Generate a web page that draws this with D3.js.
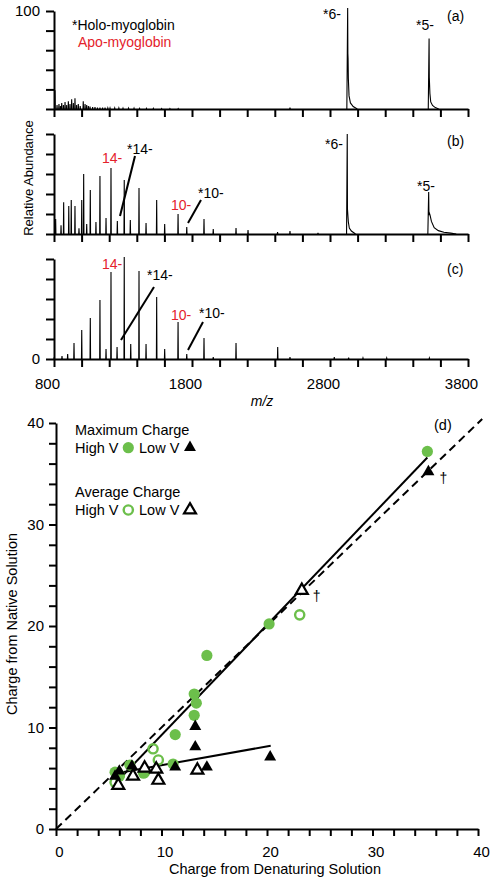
<!DOCTYPE html>
<html><head><meta charset="utf-8">
<script src="https://cdn.jsdelivr.net/npm/d3@7"></script>
<style>body{margin:0;background:#fff} text{font-family:"Liberation Sans",Arial,Helvetica,sans-serif}</style>
</head><body><svg id="c" width="496" height="884"></svg>
<script>
// ---------- DATA ----------
const mzTicks = [800,1000,1200,1400,1600,1800,2000,2200,2400,2600,2800,3000,3200,3400,3600,3800];
const mzLabels = [800,1800,2800,3800];
const abTicks = [0,20,40,60,80,100];

// panel (a) stick peaks
const aMz  = [807,822,836,846,856,868,880,892,904,916,928,940,952,964,976,990,1012,1025,1037,1049,1061,1080,1097,1115,1133,1152,1170,1190,1206,1240,1270,1300,1340,1380,1420,1470,1520,1580,1640,1700,2510];
const aInt = [19,4,5,3,6,4,7,4,8,5,10,6,11,4,5,3,8,5,4,3,2.5,2,2,1.5,1.5,1.5,1.5,1,1,1,1,0.8,0.8,0.8,0.6,0.6,0.6,0.5,0.5,0.5,1.5];
// panel (a) holo peaks (*6-, *5-)
const aHoloMz = [2928,3518];
const aHoloInt = [103,72];

// panel (b)
const bMz  = [812,851,870,907,925,952,981,1001,1015,1037,1063,1104,1133,1177,1213,1259,1309,1353,1416,1467,1544,1602,1699,1762,1887,1954,2119,2206,2420,2510,2713];
const bInt = [15,8.7,31.7,28,34,28,5.7,34,60,10,44,12,58,16,66,13,54,14,46,11,34,10,20,7,15,5,6,4,2,3,1.2];
const bHoloMz = [2925,3515];
const bHoloInt = [100,42];

// panel (c)
const cMz  = [802,858,899,945,1001,1063,1133,1177,1213,1257,1309,1356,1416,1467,1544,1602,1699,1762,1887,1954,2119,2421,2510,2831,2935,3039,3211,3520];
const cInt = [2,3,5,16,29,41,59,10,87,12,102,15,88,15,62,10,37,5,21,2,16,12,2,2,1.5,1,1,1];

// peak tail profiles: [m/z offset, fraction of apex]
const tailA6 = [[-6,0],[0,1],[1.5,0.55],[3,0.5],[5,0.3],[10,0.13],[20,0.06],[40,0.025],[70,0]];
const tailA5 = [[-6,0],[0,1],[1.5,0.45],[3,0.37],[6,0.22],[12,0.1],[25,0.05],[45,0.02],[70,0]];
const tailB6 = [[-5,0],[0,1],[1.5,0.25],[4,0.2],[8,0.12],[15,0.06],[30,0.03],[60,0]];
const tailB5 = [[-6,0],[0,1],[2,0.45],[5,0.5],[10,0.45],[20,0.3],[40,0.15],[70,0.08],[110,0.04],[160,0.02],[200,0]];

// panel (d) scatter
const dTicks = [0,2,4,6,8,10,12,14,16,18,20,22,24,26,28,30,32,34,36,38,40];
const dLabels = [0,10,20,30,40];
const maxHigh = [[5.6,5.6],[6.0,5.2],[7.0,6.3],[8.3,5.5],[11.1,6.4],[11.3,9.3],[13.1,11.2],[13.3,12.4],[13.1,13.3],[14.3,17.1],[20.2,20.2],[35.2,37.2]];
const maxLow  = [[5.6,5.2],[6.0,5.7],[7.2,6.2],[11.3,6.1],[13.2,8.1],[13.2,10.1],[14.3,6.1],[20.3,7.1],[35.3,35.2]];
const avgHigh = [[5.6,4.6],[6.0,5.3],[8.4,5.6],[9.2,7.9],[9.7,6.8],[23.1,21.1]];
const avgLow  = [[5.9,4.3],[7.3,5.2],[8.4,6.0],[9.5,5.9],[9.7,4.8],[13.4,5.8],[23.3,23.5]];
const identityLine = [[0,0],[40.4,40.4]];
const fitHigh = [[5.9,4.8],[35.2,36.6]];
const fitLow  = [[5.75,5.5],[20.35,8.2]];
const daggerPts = [[35.3,35.2],[23.3,23.5]];

// ---------- DRAW ----------
const svg = d3.select("#c");
const RED = "#e4222b", GREEN = "#6cbf4b";
const x = d3.scaleLinear().domain([800,3800]).range([54,468]);

const panels = [
  {id:"a", top:11, base:109, mz:aMz, it:aInt, holo:[[aHoloMz[0],aHoloInt[0],tailA6],[aHoloMz[1],aHoloInt[1],tailA5]]},
  {id:"b", top:134, base:234, mz:bMz, it:bInt, holo:[[bHoloMz[0],bHoloInt[0],tailB6],[bHoloMz[1],bHoloInt[1],tailB5]]},
  {id:"c", top:259, base:359, mz:cMz, it:cInt, holo:[]}
];

panels.forEach(p => {
  const y = d3.scaleLinear().domain([0,100]).range([p.base,p.top]);
  p.y = y;
  const g = svg.append("g");
  const line = d3.line().x(d=>x(d[0])).y(d=>y(d[1]));
  p.mz.forEach((m,i) => {
    g.append("path").attr("d", line([[m-2,0],[m,p.it[i]],[m+2,0]]))
      .attr("fill","none").attr("stroke","#000").attr("stroke-width",1.1);
  });
  p.holo.forEach(([m,h,shape]) => {
    g.append("path").attr("d", line(shape.map(s=>[m+s[0], h*s[1]])))
      .attr("fill","none").attr("stroke","#000").attr("stroke-width",1.1);
  });
  // axes
  const xa = d3.axisBottom(x).tickValues(mzTicks).tickSize(8).tickSizeOuter(0).tickPadding(11)
    .tickFormat(d => (p.id==="c" && mzLabels.includes(d)) ? d : "");
  const gx = svg.append("g").attr("transform",`translate(0,${p.base})`).call(xa);
  const ya = d3.axisLeft(y).tickValues(abTicks).tickSize(8).tickSizeOuter(0).tickPadding(6)
    .tickFormat(d => (p.id==="a" && d===100) ? "100" : (p.id==="c" && d===0) ? "0" : "");
  const gy = svg.append("g").attr("transform","translate(54,0)").call(ya);
  [gx,gy].forEach(ga => {
    ga.select(".domain").attr("stroke-width",2);
    ga.selectAll(".tick line").attr("stroke-width",2);
    ga.selectAll("text").attr("font-size",15).attr("fill","#000");
  });
  gx.selectAll("text").attr("dx",-7);
});

// panel text
function txt(xp, yp, s, opts={}) {
  return svg.append("text").attr("x",xp).attr("y",yp).text(s)
    .attr("font-size",opts.size||14).attr("fill",opts.color||"#000")
    .attr("text-anchor",opts.anchor||"start");
}
txt(72,29.5,"*Holo-myoglobin");
txt(78,46.5,"Apo-myoglobin",{color:RED});
txt(323,18.5,"*6-");
txt(416,30,"*5-");
txt(447,20.5,"(a)");
txt(325,148.5,"*6-");
txt(417,190.5,"*5-");
txt(447,146,"(b)");
txt(447,274,"(c)");
// (b) annotations
txt(102,162.5,"14-",{color:RED});
txt(127,153.5,"*14-");
txt(171,210,"10-",{color:RED});
txt(198,198,"*10-");
// (c) annotations
txt(102,268.5,"14-",{color:RED});
txt(147,280,"*14-");
txt(171,320,"10-",{color:RED});
txt(199,318,"*10-");
const ann = [[[120,216],[135,156]],[[188,223],[201,200]],[[121,340],[154,287]],[[188,350],[203,322]]];
ann.forEach(a => svg.append("line").attr("x1",a[0][0]).attr("y1",a[0][1]).attr("x2",a[1][0]).attr("y2",a[1][1])
  .attr("stroke","#000").attr("stroke-width",2));

svg.append("text").attr("transform","translate(33,178) rotate(-90)").attr("text-anchor","middle")
  .attr("font-size",13).attr("fill","#000").text("Relative Abundance");
svg.append("text").attr("x",262).attr("y",406).attr("text-anchor","middle")
  .attr("font-size",14).attr("font-style","italic").attr("fill","#000").text("m/z");

// ---------- panel (d) ----------
const dx = d3.scaleLinear().domain([0,40]).range([56,478]);
const dy = d3.scaleLinear().domain([0,40]).range([829,423]);
const gd = svg.append("g");
const dline = d3.line().x(d=>dx(d[0])).y(d=>dy(d[1]));
gd.append("path").attr("d",dline(identityLine)).attr("stroke","#000").attr("stroke-width",2)
  .attr("stroke-dasharray","8,5").attr("fill","none");
gd.append("path").attr("d",dline(fitHigh)).attr("stroke","#000").attr("stroke-width",2).attr("fill","none");
gd.append("path").attr("d",dline(fitLow)).attr("stroke","#000").attr("stroke-width",2).attr("fill","none");

const tri = d3.symbol().type(d3.symbolTriangle).size(62);
gd.selectAll(".ah").data(avgHigh).join("circle").attr("cx",d=>dx(d[0])).attr("cy",d=>dy(d[1])).attr("r",4.6)
  .attr("fill","none").attr("stroke",GREEN).attr("stroke-width",2.4);
gd.selectAll(".mh").data(maxHigh).join("circle").attr("cx",d=>dx(d[0])).attr("cy",d=>dy(d[1])).attr("r",5.6)
  .attr("fill",GREEN);
gd.selectAll(".al").data(avgLow).join("path").attr("d",tri).attr("transform",d=>`translate(${dx(d[0])},${dy(d[1])})`)
  .attr("fill","#fff").attr("stroke","#000").attr("stroke-width",2.2);
gd.selectAll(".ml").data(maxLow).join("path").attr("d",tri).attr("transform",d=>`translate(${dx(d[0])},${dy(d[1])})`)
  .attr("fill","#000");
daggerPts.forEach(d => gd.append("text").attr("x",dx(d[0])+11).attr("y",dy(d[1])+11)
  .attr("font-size",14).attr("fill","#000").text("\u2020"));

const dxa = d3.axisBottom(dx).tickValues(dTicks).tickSize(7).tickSizeOuter(0).tickPadding(10)
  .tickFormat(d => dLabels.includes(d) ? d : "");
const dya = d3.axisLeft(dy).tickValues(dTicks).tickSize(7).tickSizeOuter(0).tickPadding(5)
  .tickFormat(d => dLabels.includes(d) ? d : "");
const gdx = svg.append("g").attr("transform","translate(0,829)").call(dxa);
const gdy = svg.append("g").attr("transform","translate(56,0)").call(dya);
[gdx,gdy].forEach(ga => {
  ga.select(".domain").attr("stroke-width",2);
  ga.selectAll(".tick line").attr("stroke-width",2);
  ga.selectAll("text").attr("font-size",15).attr("fill","#000");
});
gdx.selectAll("text").attr("dx",3);

svg.append("text").attr("x",275).attr("y",874).attr("text-anchor","middle").attr("font-size",14.5)
  .attr("fill","#000").text("Charge from Denaturing Solution");
svg.append("text").attr("transform","translate(17,624) rotate(-90)").attr("text-anchor","middle")
  .attr("font-size",14.5).attr("fill","#000").text("Charge from Native Solution");
txt(434,430,"(d)",{size:14.5});

// legend
txt(75,435,"Maximum Charge",{size:14.5});
txt(75,453,"High V",{size:14.5});
txt(139,453,"Low V",{size:14.5});
txt(75,497,"Average Charge",{size:14.5});
txt(75,515,"High V",{size:14.5});
txt(139,515,"Low V",{size:14.5});
svg.append("circle").attr("cx",128.3).attr("cy",447.7).attr("r",5.6).attr("fill",GREEN);
svg.append("circle").attr("cx",128.3).attr("cy",510).attr("r",4.6).attr("fill","none").attr("stroke",GREEN).attr("stroke-width",2.4);
svg.append("path").attr("d",tri).attr("transform","translate(190,447.5)").attr("fill","#000");
svg.append("path").attr("d",tri).attr("transform","translate(190,510)").attr("fill","#fff").attr("stroke","#000").attr("stroke-width",2.2);
</script>
</body></html>
